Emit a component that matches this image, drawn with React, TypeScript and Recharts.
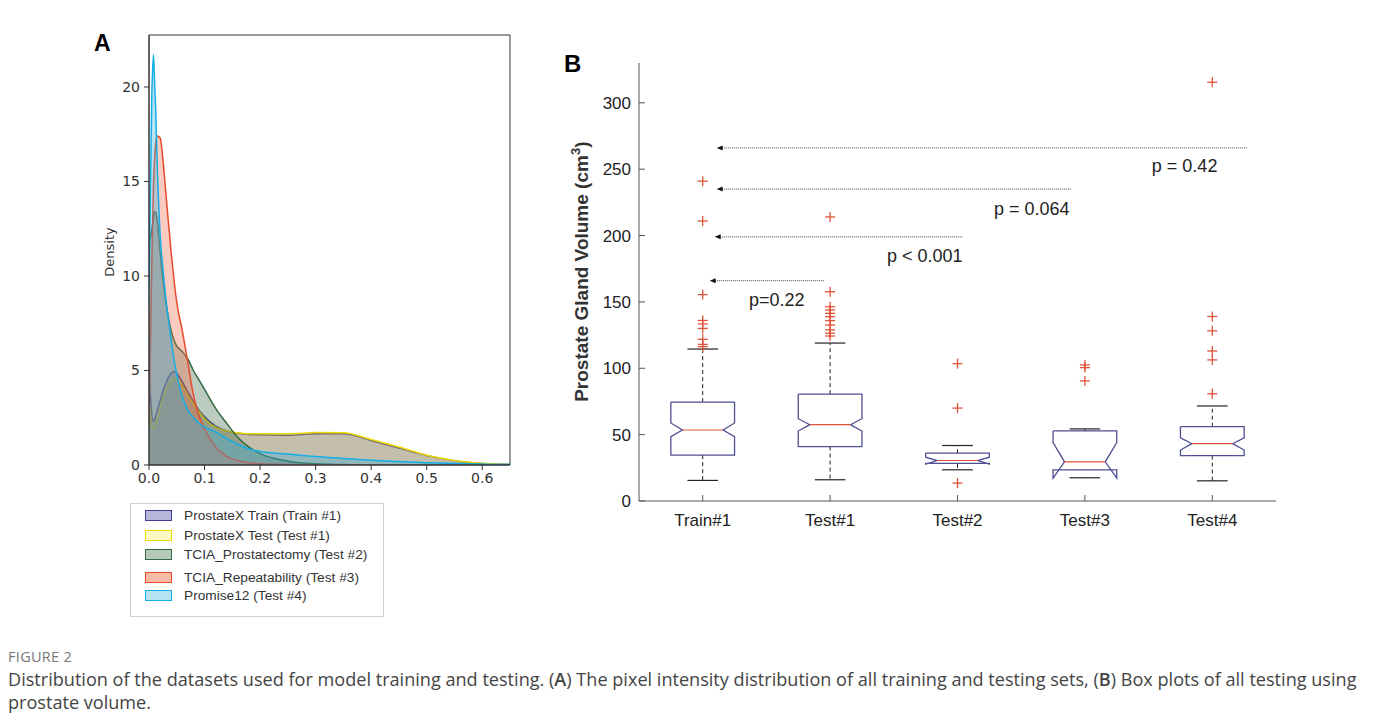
import React from 'react';
import { ComposedChart, Area, Scatter, XAxis, YAxis, ReferenceArea } from 'recharts';

// Panel A: kernel density of pixel intensity
const densX = [0, 0.005, 0.008, 0.01, 0.012, 0.015, 0.02, 0.025, 0.03, 0.04, 0.045, 0.05, 0.06, 0.07, 0.08, 0.09, 0.1, 0.12, 0.14, 0.16, 0.18, 0.2, 0.25, 0.3, 0.35, 0.4, 0.45, 0.5, 0.55, 0.6, 0.65];
const trainDens = [5.0, 2.7, 2.3, 2.4, 2.6, 2.9, 3.4, 3.9, 4.3, 4.85, 4.95, 4.85, 4.4, 3.85, 3.35, 2.9, 2.55, 2.05, 1.8, 1.68, 1.62, 1.6, 1.58, 1.65, 1.65, 1.3, 0.9, 0.5, 0.22, 0.08, 0.03];
const testDens = [3.6, 2.1, 1.9, 2.0, 2.2, 2.5, 3.0, 3.5, 3.95, 4.45, 4.6, 4.55, 4.2, 3.7, 3.25, 2.85, 2.45, 2.0, 1.8, 1.7, 1.65, 1.65, 1.65, 1.72, 1.7, 1.35, 0.95, 0.52, 0.24, 0.09, 0.03];
const prostDens = [11.8, 12.4, 13.1, 13.4, 13.4, 12.9, 11.3, 9.8, 8.7, 7.1, 6.6, 6.3, 6.0, 5.6, 5.0, 4.5, 4.0, 3.0, 2.2, 1.45, 0.95, 0.6, 0.2, 0.06, 0.02, 0, 0, 0, 0, 0, 0];
const repDens = [2.0, 10.5, 14.8, 16.2, 17.0, 17.4, 17.3, 16.2, 14.5, 11.2, 9.8, 8.6, 7.1, 5.4, 3.7, 2.6, 1.9, 0.95, 0.45, 0.22, 0.12, 0.07, 0.03, 0.01, 0, 0, 0, 0, 0, 0, 0];
const promDens = [9.5, 19.5, 21.7, 20.3, 18.8, 15.8, 12.2, 10.4, 8.9, 6.6, 5.6, 4.8, 3.6, 2.9, 2.5, 2.2, 2.0, 1.75, 1.4, 1.1, 0.85, 0.72, 0.58, 0.45, 0.35, 0.25, 0.18, 0.12, 0.08, 0.05, 0.03];
const densXTicks = [0, 0.1, 0.2, 0.3, 0.4, 0.5, 0.6];
const densYTicks = [0, 5, 10, 15, 20];
const DENS_X_MAX = 0.65;
const DENS_Y_MAX = 22.75;

const densSeries = [
  { key: 'train', name: 'ProstateX Train (Train #1)', values: trainDens, stroke: '#3f3f96', fill: '#55539f', swatch: '#b9b6dd' },
  { key: 'test', name: 'ProstateX Test (Test #1)', values: testDens, stroke: '#eedc00', fill: '#c2b24c', swatch: '#fdf9c2' },
  { key: 'prost', name: 'TCIA_Prostatectomy (Test #2)', values: prostDens, stroke: '#336b40', fill: '#3a6645', swatch: '#b7c8b8' },
  { key: 'rep', name: 'TCIA_Repeatability (Test #3)', values: repDens, stroke: '#e84a2c', fill: '#f06a4a', swatch: '#f8bba8' },
  { key: 'prom', name: 'Promise12 (Test #4)', values: promDens, stroke: '#14aee6', fill: '#35aedc', swatch: '#b8e2f5' },
];

const densData = densX.map((x, i) => {
  const row: Record<string, number> = { x };
  densSeries.forEach(s => { row[s.key] = s.values[i]; });
  return row;
});

// Panel B: prostate gland volume box plots
const boxCats = ['Train#1', 'Test#1', 'Test#2', 'Test#3', 'Test#4'];
const q1 = [34.5, 41, 28.4, 23.4, 34.2];
const q3 = [74.5, 80.5, 36, 52.8, 56];
const med = [53.5, 57.5, 30.5, 29.5, 43.2];
const notchLo = [48.5, 52.7, 27.8, 17.2, 38.4];
const notchHi = [58.8, 62, 33, 44, 47.5];
const whiskLo = [15.5, 16, 23.5, 17.5, 15.2];
const whiskHi = [114.5, 119, 41.8, 54.3, 71.6];
const outliers = [
  [116.3, 118, 121.8, 130, 133.4, 136, 155.5, 211, 241],
  [124.3, 126.4, 128.9, 132.6, 135.9, 138.9, 141.4, 143.9, 146.4, 157.7, 214],
  [13.5, 70, 103.5],
  [90.5, 100.5, 102.5],
  [80.8, 106.3, 113, 128.2, 139, 315.5],
];
const volTicks = [0, 50, 100, 150, 200, 250, 300];

// significance arrows (x in category units, y in cm^3)
const arrowTip = [1.055, 1.094, 1.11, 1.11];
const arrowTail = [1.957, 3.04, 3.894, 5.275];
const arrowY = [166, 199, 235, 266];
const pLabels = ['p=0.22', 'p < 0.001', 'p = 0.064', 'p = 0.42'];
const pLabelX = [1.8, 3.04, 3.88, 5.04];
const pLabelY = [151.5, 184.6, 220, 252.4];

const BOX_HALF = 0.25;
const NOTCH_HALF = 0.16;
const CAP_HALF = 0.12;
const BOX_COLOR = '#4f4f94';
const RED = '#e0533a';

const NoDot = () => <g />;

const PlusShape = (props: any) => {
  const { cx, cy } = props;
  return (
    <g stroke={RED} strokeWidth={1.3}>
      <line x1={cx - 5} x2={cx + 5} y1={cy} y2={cy} />
      <line x1={cx} x2={cx} y1={cy - 5} y2={cy + 5} />
    </g>
  );
};

const ArrowHead = (props: any) => {
  const { cx, cy } = props;
  return <path d={`M${cx},${cy} L${cx + 6},${cy - 2.5} L${cx + 6},${cy + 2.5} Z`} fill="#111" />;
};

const PLabel = (props: any) => {
  const { cx, cy, payload } = props;
  return (
    <text x={cx} y={cy} textAnchor="end" dominantBaseline="central" fontSize={18} fill="#222" fontFamily="'Liberation Sans', Arial, sans-serif">
      {payload.label}
    </text>
  );
};

const outline = (i: number) => {
  const x = i + 1;
  const pts = [
    [x - BOX_HALF, q3[i]], [x + BOX_HALF, q3[i]], [x + BOX_HALF, notchHi[i]], [x + NOTCH_HALF, med[i]],
    [x + BOX_HALF, notchLo[i]], [x + BOX_HALF, q1[i]], [x - BOX_HALF, q1[i]], [x - BOX_HALF, notchLo[i]],
    [x - NOTCH_HALF, med[i]], [x - BOX_HALF, notchHi[i]], [x - BOX_HALF, q3[i]],
  ];
  return pts.map(([px, py]) => ({ x: px, y: py }));
};

const seg = (x1: number, y1: number, x2: number, y2: number) => [{ x: x1, y: y1 }, { x: x2, y: y2 }];

const DensityPanel = () => (
  <div style={{ position: 'absolute', left: 90, top: 20 }}>
    <ComposedChart width={430} height={500} data={densData} margin={{ top: 15, right: 10, bottom: 25, left: 0 }}>
      <XAxis type="number" dataKey="x" domain={[0, DENS_X_MAX]} ticks={densXTicks} allowDataOverflow
        tickFormatter={(v: number) => v.toFixed(1)} height={30} tickSize={5} tickMargin={3}
        axisLine={{ stroke: '#333' }} tickLine={{ stroke: '#333' }}
        tick={{ fill: '#333', fontSize: 14, fontFamily: 'DejaVu Sans' }} />
      <YAxis type="number" domain={[0, DENS_Y_MAX]} ticks={densYTicks} allowDataOverflow width={59} tickSize={5} tickMargin={4}
        axisLine={{ stroke: '#333' }} tickLine={{ stroke: '#333' }}
        tick={{ fill: '#333', fontSize: 14, fontFamily: 'DejaVu Sans' }} />
      {densSeries.map(s => (
        <Area key={s.key} type="monotone" dataKey={s.key} name={s.name} stroke={s.stroke} strokeWidth={1.5}
          fill={s.fill} fillOpacity={0.34} isAnimationActive={false} dot={false} activeDot={false} />
      ))}
      <ReferenceArea x1={0} x2={DENS_X_MAX} y1={0} y2={DENS_Y_MAX} fill="none" fillOpacity={0} stroke="#333" strokeWidth={1} ifOverflow="visible" />
    </ComposedChart>
  </div>
);

const BoxPanel = () => (
  <div style={{ position: 'absolute', left: 560, top: 50 }}>
    <ComposedChart width={730} height={500} margin={{ top: 13, right: 14, bottom: 19, left: 0 }}>
      <XAxis type="number" dataKey="x" domain={[0.5, 5.5]} ticks={[1, 2, 3, 4, 5]} allowDataOverflow
        tickFormatter={(v: number) => boxCats[v - 1]} height={30} tickSize={-6} tickMargin={19}
        axisLine={{ stroke: '#555' }} tickLine={{ stroke: '#555' }}
        tick={{ fill: '#222', fontSize: 17, fontFamily: "'Liberation Sans', Arial" }} />
      <XAxis xAxisId="top" orientation="top" type="number" domain={[0.5, 5.5]} ticks={[1, 2, 3, 4, 5]} height={0}
        tickSize={-6} tickFormatter={() => ''} axisLine={{ stroke: '#555' }} tickLine={{ stroke: '#555' }} />
      <YAxis type="number" dataKey="y" domain={[0, 330]} ticks={volTicks} allowDataOverflow width={79}
        tickSize={-6} tickMargin={14} axisLine={{ stroke: '#555' }} tickLine={{ stroke: '#555' }}
        tick={{ fill: '#222', fontSize: 17, fontFamily: "'Liberation Sans', Arial" }} />
      <YAxis yAxisId="right" orientation="right" type="number" domain={[0, 330]} ticks={volTicks} width={0}
        tickSize={-6} tickFormatter={() => ''} axisLine={{ stroke: '#555' }} tickLine={{ stroke: '#555' }} />
      {boxCats.map((c, i) => (
        <Scatter key={`w-hi-${c}`} data={seg(i + 1, q3[i], i + 1, whiskHi[i])} line={{ stroke: '#222', strokeWidth: 1, strokeDasharray: '4 3' }} shape={NoDot} isAnimationActive={false} />
      ))}
      {boxCats.map((c, i) => (
        <Scatter key={`w-lo-${c}`} data={seg(i + 1, Math.min(q1[i], notchLo[i]), i + 1, whiskLo[i])} line={{ stroke: '#222', strokeWidth: 1, strokeDasharray: '4 3' }} shape={NoDot} isAnimationActive={false} />
      ))}
      {boxCats.map((c, i) => (
        <Scatter key={`c-hi-${c}`} data={seg(i + 1 - CAP_HALF, whiskHi[i], i + 1 + CAP_HALF, whiskHi[i])} line={{ stroke: '#222', strokeWidth: 1.2 }} shape={NoDot} isAnimationActive={false} />
      ))}
      {boxCats.map((c, i) => (
        <Scatter key={`c-lo-${c}`} data={seg(i + 1 - CAP_HALF, whiskLo[i], i + 1 + CAP_HALF, whiskLo[i])} line={{ stroke: '#222', strokeWidth: 1.2 }} shape={NoDot} isAnimationActive={false} />
      ))}
      {boxCats.map((c, i) => (
        <Scatter key={`box-${c}`} data={outline(i)} line={{ stroke: BOX_COLOR, strokeWidth: 1.3 }} shape={NoDot} isAnimationActive={false} />
      ))}
      {boxCats.map((c, i) => (
        <Scatter key={`med-${c}`} data={seg(i + 1 - NOTCH_HALF, med[i], i + 1 + NOTCH_HALF, med[i])} line={{ stroke: RED, strokeWidth: 1.2 }} shape={NoDot} isAnimationActive={false} />
      ))}
      {boxCats.map((c, i) => (
        <Scatter key={`out-${c}`} data={outliers[i].map(v => ({ x: i + 1, y: v }))} shape={PlusShape} isAnimationActive={false} />
      ))}
      {arrowY.map((y, i) => (
        <Scatter key={`arr-${i}`} data={seg(arrowTip[i] + 0.04, y, arrowTail[i], y)} line={{ stroke: '#666', strokeWidth: 1.2, strokeDasharray: '1 1' }} shape={NoDot} isAnimationActive={false} />
      ))}
      <Scatter data={arrowTip.map((x, i) => ({ x, y: arrowY[i] }))} shape={ArrowHead} isAnimationActive={false} />
      <Scatter data={pLabels.map((label, i) => ({ x: pLabelX[i], y: pLabelY[i], label }))} shape={PLabel} isAnimationActive={false} />
    </ComposedChart>
  </div>
);

const Legend = () => (
  <div style={{ position: 'absolute', left: 130, top: 503, width: 254, height: 114, border: '1px solid #cfcfcf', boxSizing: 'border-box', fontFamily: "'Liberation Sans', Arial, sans-serif", fontSize: 13.7, color: '#333' }}>
    {densSeries.map((s, i) => (
      <div key={s.key} style={{ position: 'absolute', left: 14, top: [4, 24, 43, 66, 84][i], height: 14, display: 'flex', alignItems: 'center', whiteSpace: 'nowrap' }}>
        <span style={{ display: 'inline-block', width: 25, height: 9, background: s.swatch, border: `1.5px solid ${s.stroke}`, marginRight: 12 }} />
        {s.name}
      </div>
    ))}
  </div>
);

export default function App() {
  return (
    <div style={{ position: 'absolute', left: 0, top: 0, width: 1375, height: 727, background: '#fff', overflow: 'hidden' }}>
      <div style={{ position: 'absolute', left: 94, top: 30, fontFamily: "'Liberation Sans', Arial", fontWeight: 'bold', fontSize: 23 }}>A</div>
      <div style={{ position: 'absolute', left: 564, top: 50, fontFamily: "'Liberation Sans', Arial", fontWeight: 'bold', fontSize: 24 }}>B</div>
      <div style={{ position: 'absolute', left: 60, top: 244, width: 100, textAlign: 'center', transform: 'rotate(-90deg)', fontFamily: 'DejaVu Sans', fontSize: 13, color: '#333', lineHeight: '16px' }}>Density</div>
      <DensityPanel />
      <Legend />
      <div style={{ position: 'absolute', left: 379, top: 257, width: 400, textAlign: 'center', transform: 'rotate(-90deg)', fontFamily: "'Liberation Sans', Arial", fontWeight: 'bold', fontSize: 19, color: '#333', lineHeight: '24px', whiteSpace: 'nowrap' }}>
        Prostate Gland Volume (cm<sup style={{ fontSize: 13 }}>3</sup>)
      </div>
      <BoxPanel />
      <div style={{ position: 'absolute', left: 8, top: 647, fontFamily: "'Open Sans', sans-serif", fontSize: 14.5, color: '#777', letterSpacing: 0.3 }}>FIGURE 2</div>
      <div style={{ position: 'absolute', left: 8, top: 668, fontFamily: "'Open Sans', sans-serif", fontSize: 18.1, color: '#444', lineHeight: '23px', whiteSpace: 'nowrap' }}>
        Distribution of the datasets used for model training and testing. (<b style={{ fontWeight: 600 }}>A</b>) The pixel intensity distribution of all training and testing sets, (<b style={{ fontWeight: 600 }}>B</b>) Box plots of all testing using<br />
        prostate volume.
      </div>
    </div>
  );
}
